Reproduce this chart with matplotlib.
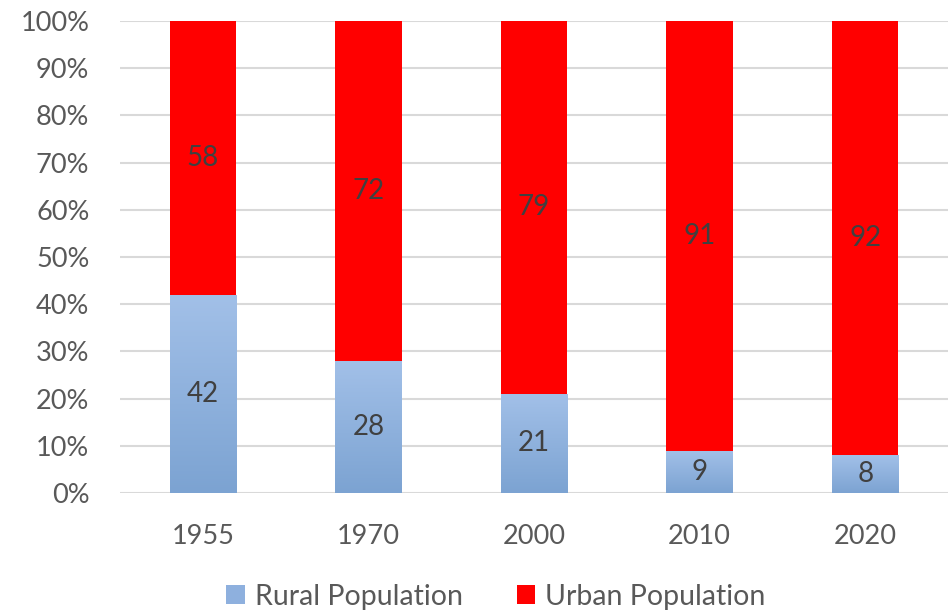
import matplotlib.pyplot as plt
import matplotlib.colors as mcolors
import numpy as np

# data
years = ['1955', '1970', '2000', '2010', '2020']
rural = [42, 28, 21, 9, 8]
urban = [58, 72, 79, 91, 92]

plt.rcParams['font.family'] = ['Lato', 'DejaVu Sans']

fig = plt.figure(figsize=(9.48, 6.12), dpi=100)
ax = fig.add_axes([0.1266, 0.1944, 0.8734, 0.7713])

x = np.arange(len(years))
w = 0.4
rb = ax.bar(x, rural, w, color='#8eb0de', label='Rural Population', zorder=3)
ub = ax.bar(x, urban, w, bottom=rural, color='#ff0000', label='Urban Population', zorder=3)

# vertical gradient on the rural bars
grad = mcolors.LinearSegmentedColormap.from_list('g', ['#7ca3d2', '#a2c0e8'])
for p in rb:
    x0, y0 = p.get_x(), p.get_y()
    im = ax.imshow(np.linspace(0, 1, 100).reshape(-1, 1), cmap=grad, origin='lower',
                   extent=[x0, x0 + p.get_width(), y0, y0 + p.get_height()],
                   aspect='auto', zorder=3.5)
    im.set_clip_path(p)

for i in range(len(years)):
    ax.text(x[i], rural[i] / 2, str(rural[i]), ha='center', va='center',
            fontsize=20, color='#404040', zorder=5)
    ax.text(x[i], rural[i] + urban[i] / 2, str(urban[i]), ha='center', va='center',
            fontsize=20, color='#404040', zorder=5)

ax.set_xlim(-0.5, len(years) - 0.5)
ax.set_ylim(0, 100)
ax.set_yticks(range(0, 101, 10))
ax.set_yticklabels([f'{v}%' for v in range(0, 101, 10)])
ax.set_xticks(x)
ax.set_xticklabels(years)
ax.tick_params(length=0, labelsize=19.5, colors='#595959')
ax.tick_params(axis='x', pad=22)
ax.tick_params(axis='y', pad=22)
ax.grid(axis='y', color='#d9d9d9', linewidth=1.5, zorder=0)
for s in ax.spines.values():
    s.set_visible(False)

fig.legend(handles=[rb, ub], loc='center', bbox_to_anchor=(0.523, 0.025), ncol=2,
           frameon=False, fontsize=20.5, labelcolor='#595959', handlelength=0.65,
           handleheight=0.65, handletextpad=0.35, columnspacing=1.9)

fig.savefig('out.png', dpi=100)
